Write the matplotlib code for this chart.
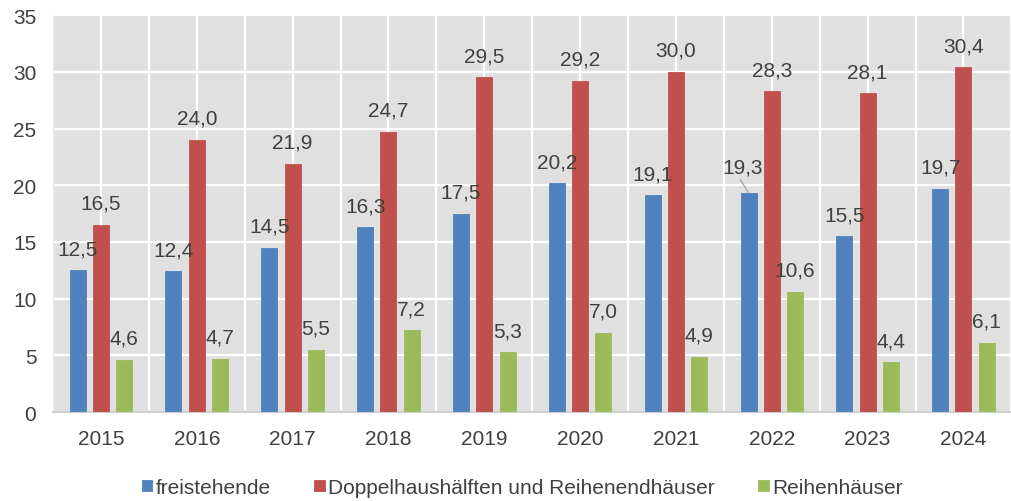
import numpy as np
import matplotlib.pyplot as plt

plt.rcParams['font.family'] = ['Liberation Sans', 'DejaVu Sans']

# Baufertigstellungen nach Haustyp
jahre = ['2015', '2016', '2017', '2018', '2019', '2020', '2021', '2022', '2023', '2024']
freistehende = [12.5, 12.4, 14.5, 16.3, 17.5, 20.2, 19.1, 19.3, 15.5, 19.7]
doppelhaus = [16.5, 24.0, 21.9, 24.7, 29.5, 29.2, 30.0, 28.3, 28.1, 30.4]
reihenhaeuser = [4.6, 4.7, 5.5, 7.2, 5.3, 7.0, 4.9, 10.6, 4.4, 6.1]

serien = [
    ('freistehende', freistehende, '#4F81BD'),
    ('Doppelhaushälften und Reihenendhäuser', doppelhaus, '#C0504D'),
    ('Reihenhäuser', reihenhaeuser, '#9BBB59'),
]

text_col = '#404040'
bg_col = '#E0E0E0'
fs = 15

fig = plt.figure(figsize=(10.12, 5.02), dpi=100)
ax = fig.add_axes([0.0524, 0.177, 0.947, 0.791])
ax.set_facecolor(bg_col)

x = np.arange(len(jahre))
breite = 0.167
schritt = 0.243

for i, (name, werte, farbe) in enumerate(serien):
    pos = x + (i - 1) * schritt
    ax.bar(pos, werte, width=breite, color=farbe, label=name, zorder=3,
           edgecolor=farbe, linewidth=0.6)
    for xp, v in zip(pos, werte):
        txt = f'{v:.1f}'.replace('.', ',')
        if name == 'freistehende' and v == 19.3:
            # label moved aside, with a leader line to the bar
            ax.annotate(txt, xy=(xp, v), xytext=(xp - 0.06, v + 1.8),
                        ha='center', va='baseline', fontsize=fs, color=text_col,
                        zorder=4)
            ax.plot([xp - 0.085, xp - 0.005], [v + 1.2, v + 0.1],
                    color='#A6A6A6', lw=1.0, zorder=4)
        else:
            ax.annotate(txt, xy=(xp, v), xytext=(0, 11.5), textcoords='offset points',
                        ha='center', va='baseline', fontsize=fs, color=text_col,
                        zorder=4)

ax.set_xlim(-0.5, len(jahre) - 0.5)
ax.set_ylim(0, 35)
ax.set_yticks(range(0, 36, 5))
ax.set_xticks(x)
ax.set_xticklabels(jahre)

# white grid: horizontal every 5, vertical every half category
for y in range(5, 36, 5):
    ax.axhline(y, color='white', lw=1.6, zorder=1)
for xv in np.arange(-0.5, len(jahre), 0.5):
    ax.axvline(xv, color='white', lw=1.6, zorder=1)

for s in ['top', 'right']:
    ax.spines[s].set_visible(False)
ax.spines['left'].set_color('#EBEBEB')
ax.spines['bottom'].set_color('#D0D0D0')
ax.spines['bottom'].set_linewidth(1.5)

ax.tick_params(axis='both', length=0, labelsize=fs, colors=text_col)
ax.tick_params(axis='x', pad=12)
ax.tick_params(axis='y', pad=12)

fig.legend(loc='center', bbox_to_anchor=(0.516, 0.027), ncol=3, frameon=False,
           fontsize=fs, handlelength=0.5, handleheight=0.5, handletextpad=0.15,
           columnspacing=2.1, labelcolor=text_col)

fig.savefig('out.png', dpi=100)
